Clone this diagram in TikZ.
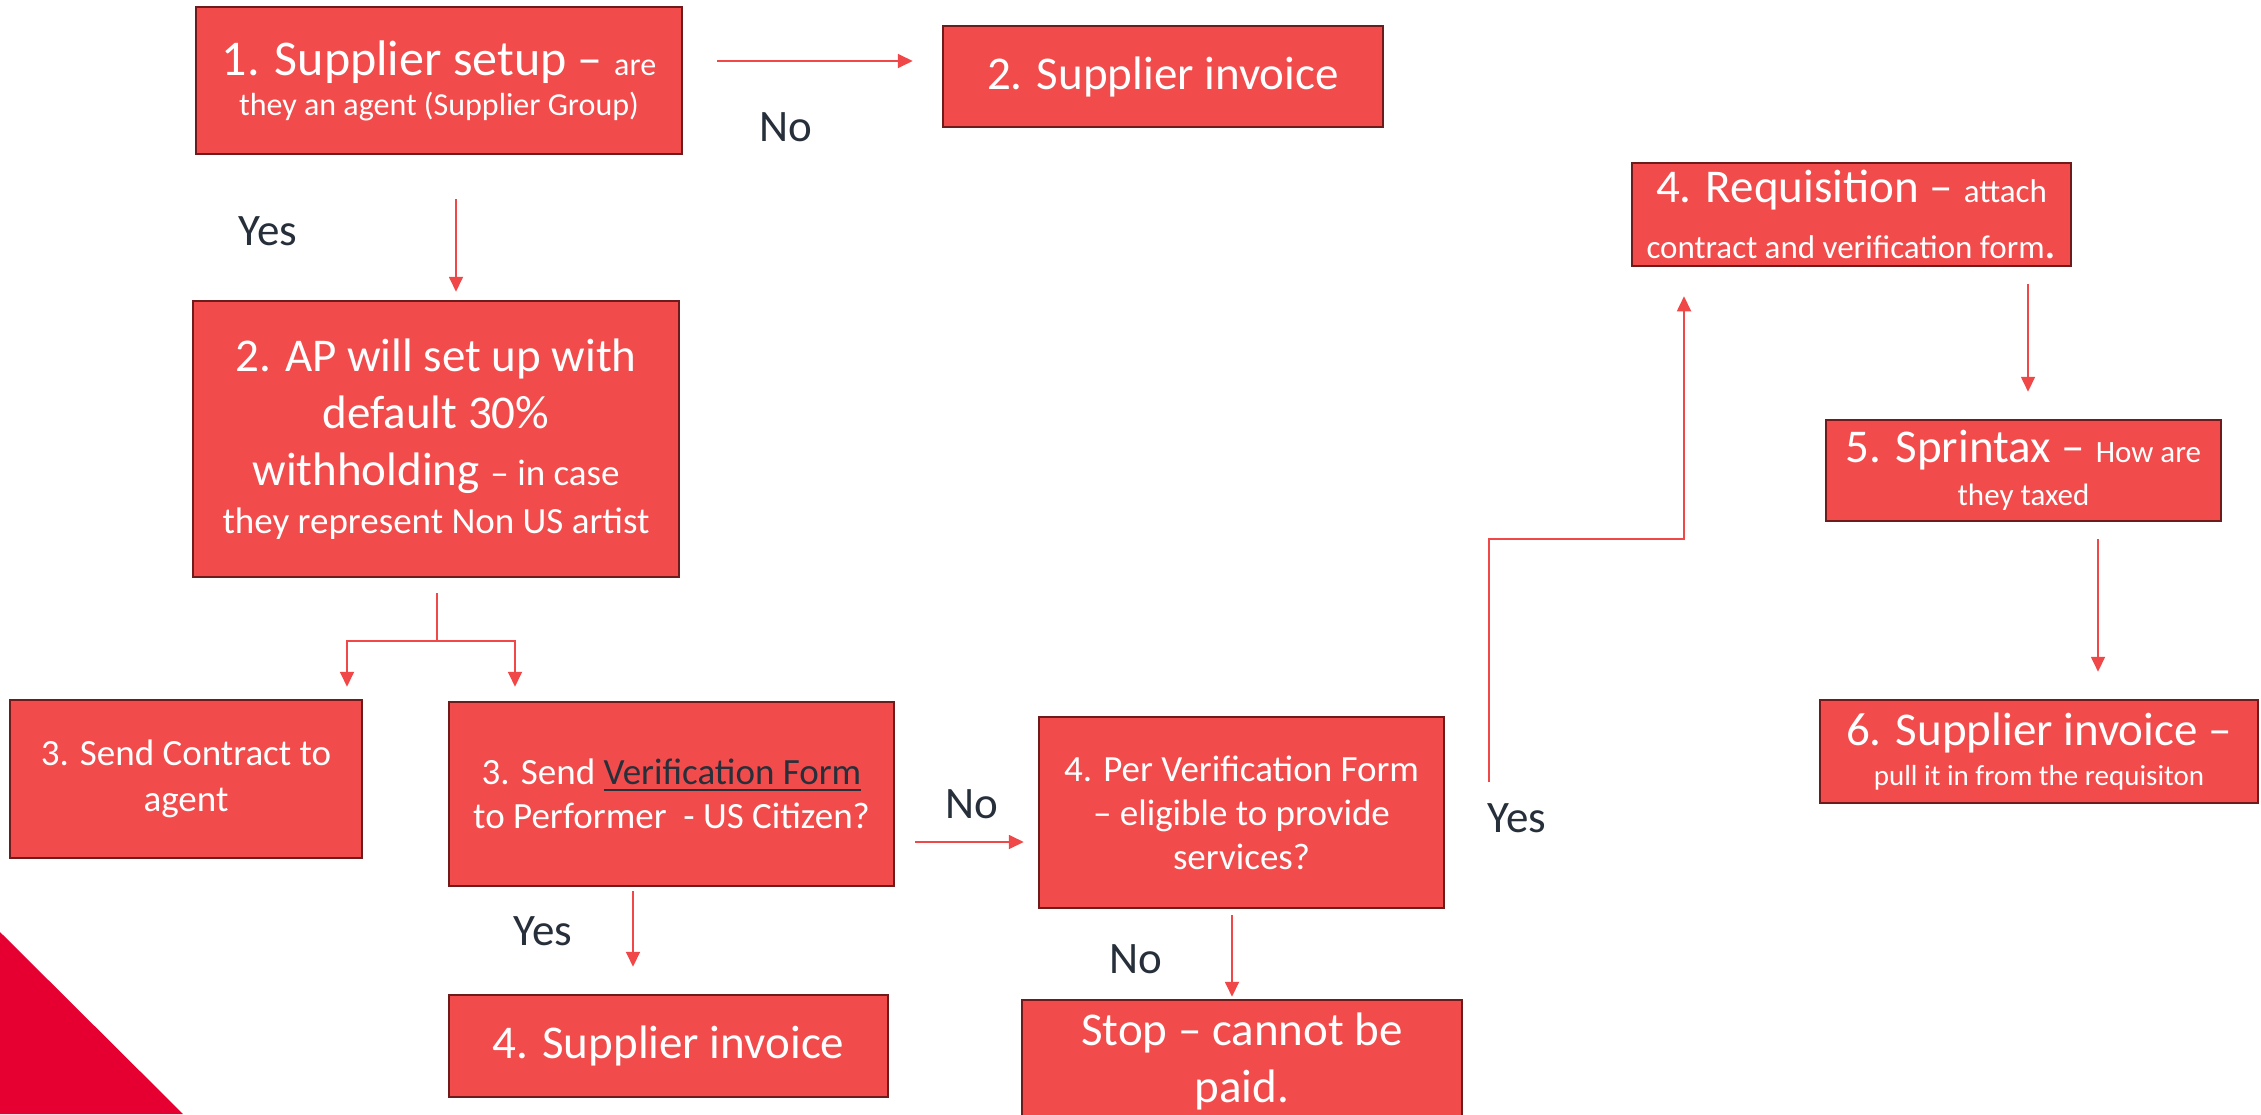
\documentclass[tikz,border=0pt]{standalone}
\usepackage{fontspec}
\setmainfont{Carlito}
\usetikzlibrary{arrows.meta,calc}
\definecolor{boxfill}{HTML}{F14B4C}
\definecolor{boxline}{HTML}{6E1B1B}
\definecolor{linkred}{HTML}{F04848}
\definecolor{lblc}{HTML}{262F3A}
\definecolor{corner}{HTML}{E60032}
\newcommand{\txtsz}[2]{{\fontsize{#1}{#1}\selectfont #2}}
\newcommand{\myul}[1]{\leavevmode\setbox0\hbox{#1}\rlap{\rule[-6pt]{\wd0}{2pt}}\box0}
\begin{document}
\begin{tikzpicture}[x=1pt,y=-1pt,
  box/.style={draw=boxline,line width=2.5pt,fill=boxfill,text=white,inner sep=0pt,align=center},
  arr/.style={draw=linkred,line width=1.8pt,-{Triangle[length=15pt,width=14pt]}},
  lbl/.style={text=lblc,font=\fontsize{45}{54}\selectfont,anchor=base,inner sep=0pt}]
\useasboundingbox (0,0) rectangle (2261,1114);
\clip (0,0) rectangle (2261,1114);
\fill[corner] (0,932) -- (183,1114) -- (0,1114) -- cycle;

\node[box,minimum width=486pt,minimum height=147pt,font=\fontsize{50}{40}\selectfont] (s1) at (439,80.5)
  {1. Supplier setup – \txtsz{32}{are}\\\txtsz{32}{they an agent (Supplier Group)}};
\node[box,minimum width=440pt,minimum height=101pt,font=\fontsize{47}{57}\selectfont] (sup2) at (1163,76.5)
  {2. Supplier invoice};
\node[box,minimum width=486pt,minimum height=276pt,font=\fontsize{47}{57}\selectfont] (ap) at (436,439)
  {2. AP will set up with\\default 30\%\\withholding \txtsz{37}{– in case}\\[-9pt]\txtsz{37}{they represent Non US artist}};
\node[box,minimum width=352pt,minimum height=158pt,font=\fontsize{37}{46}\selectfont] (contract) at (186,779)
  {3. Send Contract to\\agent};
\node[box,minimum width=445pt,minimum height=184pt,font=\fontsize{37}{44}\selectfont] (verif) at (671.5,794)
  {3. Send \textcolor{lblc}{\myul{Verification Form}}\\to Performer\ \ - US Citizen?};
\node[box,minimum width=405pt,minimum height=191pt,font=\fontsize{37}{44}\selectfont] (perv) at (1241.5,812.5)
  {4. Per Verification Form\\– eligible to provide\\services?};
\node[box,minimum width=439pt,minimum height=102pt,font=\fontsize{47}{57}\selectfont] (sup4) at (668.5,1046)
  {4. Supplier invoice};
\node[box,minimum width=440pt,minimum height=122pt,font=\fontsize{47}{57}\selectfont] (stop) at (1242,1061)
  {Stop – cannot be\\paid.};
\node[box,minimum width=439pt,minimum height=103pt,font=\fontsize{47}{56}\selectfont] (req) at (1851.5,214.5)
  {4. Requisition – \txtsz{33}{attach}\\\txtsz{33}{contract and verification form}.};
\node[box,minimum width=395pt,minimum height=101pt,font=\fontsize{47}{43}\selectfont] (sprint) at (2023.5,470.5)
  {5. Sprintax – \txtsz{31}{How are}\\\txtsz{31}{they taxed}};
\node[box,minimum width=438pt,minimum height=103pt,font=\fontsize{47}{40}\selectfont] (sup6) at (2039,751.5)
  {6. Supplier invoice –\\\txtsz{29}{pull it in from the requisiton}};

\node[lbl] (no1) at (786,141) {No};
\node[lbl] (yes1) at (268,245) {Yes};
\node[lbl] (no2) at (972,818) {No};
\node[lbl] (yes2) at (543,945) {Yes};
\node[lbl] (no3) at (1136,973) {No};
\node[lbl] (yes3) at (1517,832) {Yes};

\draw[arr] ($(s1.east)+(34,-19.5)$) -- ($(sup2.west)+(-29,-15.5)$);
\draw[arr] ($(s1.south)+(17,44)$) -- ($(ap.north)+(20,-8)$);
\draw[arr] ($(ap.south)+(1,15)$) -- ++(0,48) -| ($(contract.north)+(161,-12)$);
\draw[arr] ($(ap.south)+(1,63)$) -| ($(verif.north)+(-156.5,-14)$);
\draw[arr] ($(verif.south)+(-38.5,4)$) -- ($(sup4.north)+(-35.5,-27)$);
\draw[arr] ($(verif.east)+(20,48)$) -- ($(perv.west)+(-14,29.5)$);
\draw[arr] ($(perv.south)+(-9.5,6)$) -- ($(stop.north)+(-10,-2)$);
\draw[arr] ($(perv.east)+(44,-30.5)$) |- ($(req.south)+(-167.5,272)$) -- ($(req.south)+(-167.5,29)$);
\draw[arr] ($(req.south)+(176.5,17)$) -- ($(sprint.north)+(4.5,-27)$);
\draw[arr] ($(sprint.south)+(74.5,17)$) -- ($(sup6.north)+(59,-27)$);
\end{tikzpicture}
\end{document}
